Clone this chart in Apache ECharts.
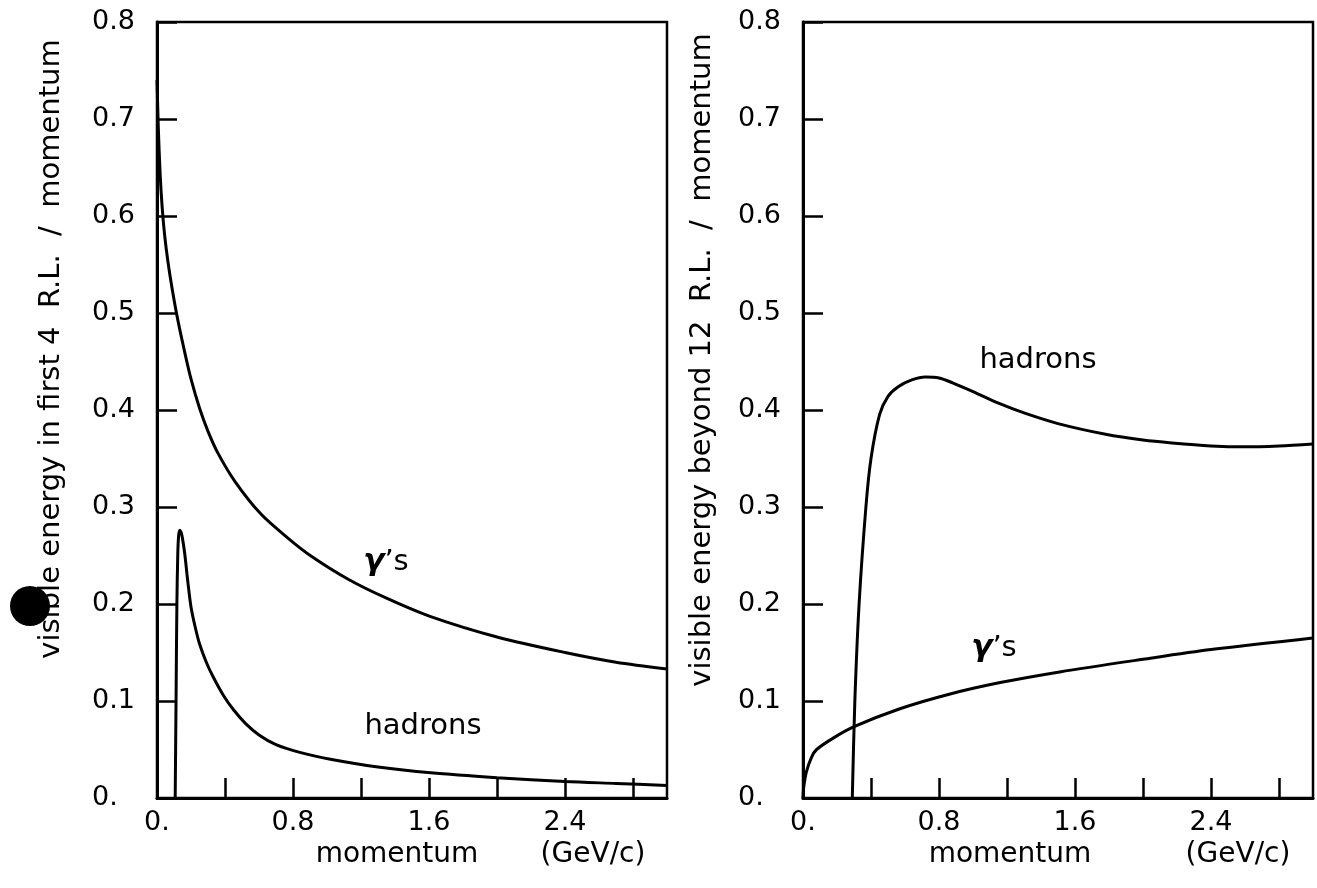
<!DOCTYPE html>
<html>
<head>
<meta charset="utf-8">
<script src="https://cdn.jsdelivr.net/npm/echarts@6/dist/echarts.min.js"></script>
<style>
  html, body { margin: 0; padding: 0; background: #fff; }
  #chart { width: 1317px; height: 888px; }
</style>
</head>
<body>
<div id="chart"></div>
<script>
// Momentum (GeV/c) vs visible energy fraction, two panels.

// Left panel: visible energy in first 4 R.L. / momentum
const gammaLeftP = [0.0, 0.008, 0.018, 0.03, 0.045, 0.065, 0.09, 0.12, 0.16, 0.20, 0.25, 0.30, 0.36, 0.46, 0.61, 0.77, 0.91, 1.13, 1.35, 1.61, 2.0, 2.4, 2.7, 3.0];
const gammaLeftE = [0.740, 0.690, 0.645, 0.610, 0.580, 0.552, 0.524, 0.495, 0.462, 0.432, 0.402, 0.378, 0.355, 0.326, 0.293, 0.268, 0.249, 0.225, 0.206, 0.187, 0.166, 0.150, 0.140, 0.133];

const hadronLeftP = [0.107, 0.112, 0.117, 0.122, 0.127, 0.134, 0.145, 0.163, 0.18, 0.20, 0.225, 0.25, 0.29, 0.33, 0.39, 0.45, 0.52, 0.60, 0.70, 0.84, 1.02, 1.3, 1.61, 2.0, 2.4, 2.7, 3.0];
const hadronLeftE = [0.0, 0.1, 0.2, 0.25, 0.270, 0.276, 0.272, 0.252, 0.225, 0.197, 0.176, 0.159, 0.140, 0.125, 0.106, 0.091, 0.077, 0.065, 0.055, 0.047, 0.040, 0.032, 0.026, 0.021, 0.017, 0.015, 0.013];

// Right panel: visible energy beyond 12 R.L. / momentum
const hadronRightP = [0.29, 0.305, 0.33, 0.37, 0.40, 0.45, 0.50, 0.56, 0.64, 0.72, 0.80, 0.88, 1.0, 1.15, 1.3, 1.5, 1.78, 2.0, 2.17, 2.4, 2.6, 2.8, 3.0];
const hadronRightE = [0.0, 0.1, 0.2, 0.30, 0.35, 0.395, 0.414, 0.424, 0.431, 0.434, 0.433, 0.428, 0.419, 0.407, 0.397, 0.386, 0.375, 0.369, 0.366, 0.363, 0.362, 0.363, 0.365];

const gammaRightP = [0.0, 0.005, 0.02, 0.05, 0.08, 0.18, 0.30, 0.57, 0.86, 1.16, 1.51, 2.0, 2.4, 3.0];
const gammaRightE = [0.0, 0.012, 0.027, 0.042, 0.050, 0.062, 0.0735, 0.092, 0.107, 0.119, 0.130, 0.143, 0.153, 0.165];

// Axis tick labels
const xTickValues = [0, 0.8, 1.6, 2.4];
const xTickLabels = ['0.', '0.8', '1.6', '2.4'];
const yTickLabels = ['0.', '0.1', '0.2', '0.3', '0.4', '0.5', '0.6', '0.7', '0.8'];

const leftYTitle = 'visible energy in first 4  R.L.  /  momentum';
const rightYTitle = 'visible energy beyond 12  R.L.  /  momentum';
const xTitleWord = 'momentum';
const xTitleUnit = '(GeV/c)';

const FONT = 'DejaVu Sans';
const INK = '#000';

function pairs(xs, ys) { return xs.map((x, i) => [x, ys[i]]); }

function xAxisCfg(gridIndex) {
  return {
    type: 'value', gridIndex, min: 0, max: 3.0, interval: 0.4,
    axisLine: { show: true, onZero: false, lineStyle: { color: INK, width: 3 } },
    axisTick: { show: true, inside: true, length: 20, lineStyle: { color: INK, width: 2.5 } },
    axisLabel: {
      margin: 11, color: INK, fontFamily: FONT, fontSize: 27,
      showMaxLabel: false,
      formatter: v => {
        const i = xTickValues.findIndex(t => Math.abs(t - v) < 1e-6);
        return i >= 0 ? xTickLabels[i] : '';
      }
    },
    splitLine: { show: false }
  };
}

function yAxisCfg(gridIndex) {
  return {
    type: 'value', gridIndex, min: 0, max: 0.8, interval: 0.1,
    axisLine: { show: true, onZero: false, lineStyle: { color: INK, width: 3 } },
    axisTick: { show: true, inside: true, length: 20, lineStyle: { color: INK, width: 2.5 } },
    axisLabel: {
      margin: 65, align: 'left', color: INK, fontFamily: FONT, fontSize: 27,
      formatter: v => yTickLabels[Math.round(v * 10)]
    },
    splitLine: { show: false }
  };
}

function curve(name, xi, data) {
  return {
    name, type: 'line', xAxisIndex: xi, yAxisIndex: xi,
    data, showSymbol: false, smooth: 0.3,
    lineStyle: { color: INK, width: 3 }, silent: true, animation: false
  };
}

function label(text, x, y, size) {
  return {
    type: 'text', x, y,
    style: { text, fill: INK, font: `${size}px "${FONT}"`, align: 'center', verticalAlign: 'middle' }
  };
}

function gammaLabel(x, y) {
  return {
    type: 'text', x, y,
    style: {
      text: '{g|γ}{s|’s}', align: 'center', verticalAlign: 'middle',
      rich: {
        g: { fontFamily: FONT, fontSize: 31, fontStyle: 'italic', fontWeight: 'bold', fill: INK },
        s: { fontFamily: FONT, fontSize: 29, fill: INK }
      }
    }
  };
}

const chart = echarts.init(document.getElementById('chart'), null, { renderer: 'canvas' });

chart.setOption({
  backgroundColor: '#fff',
  animation: false,
  grid: [
    { left: 157, top: 22, width: 510, height: 776, show: true, borderColor: INK, borderWidth: 2.5, backgroundColor: 'transparent' },
    { left: 803, top: 22, width: 510, height: 776, show: true, borderColor: INK, borderWidth: 2.5, backgroundColor: 'transparent' }
  ],
  xAxis: [xAxisCfg(0), xAxisCfg(1)],
  yAxis: [yAxisCfg(0), yAxisCfg(1)],
  series: [
    curve('γ’s (first 4 R.L.)', 0, pairs(gammaLeftP, gammaLeftE)),
    curve('hadrons (first 4 R.L.)', 0, pairs(hadronLeftP, hadronLeftE)),
    curve('hadrons (beyond 12 R.L.)', 1, pairs(hadronRightP, hadronRightE)),
    curve('γ’s (beyond 12 R.L.)', 1, pairs(gammaRightP, gammaRightE))
  ],
  graphic: [
    { type: 'text', x: 51, y: 349, rotation: Math.PI / 2,
      style: { text: leftYTitle, fill: INK, font: `29px "${FONT}"`, align: 'center', verticalAlign: 'middle' } },
    { type: 'text', x: 702, y: 360, rotation: Math.PI / 2,
      style: { text: rightYTitle, fill: INK, font: `29px "${FONT}"`, align: 'center', verticalAlign: 'middle' } },
    label(xTitleWord, 397, 855, 28),
    label(xTitleUnit, 593, 855, 28),
    label(xTitleWord, 1010, 855, 28),
    label(xTitleUnit, 1238, 855, 28),
    gammaLabel(386, 562),
    label('hadrons', 423, 726, 29),
    label('hadrons', 1038, 360, 29),
    gammaLabel(994, 648),
    { type: 'circle', shape: { cx: 30, cy: 606, r: 20 }, style: { fill: INK } }
  ]
});
</script>
</body>
</html>
